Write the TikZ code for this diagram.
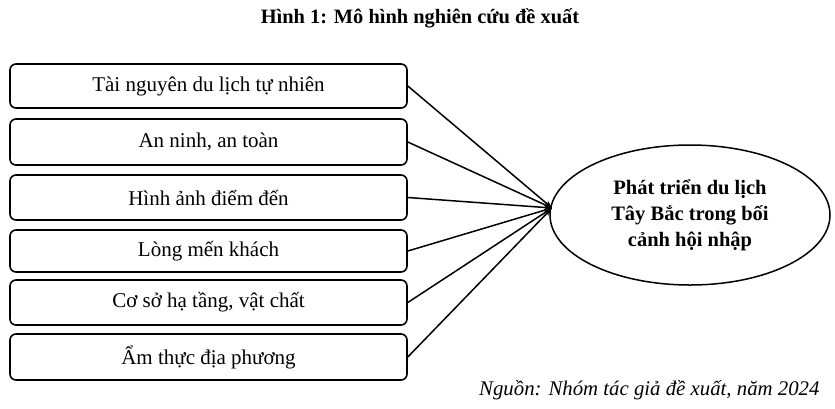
\documentclass[tikz,border=0pt]{standalone}
\usepackage{fontspec}
\setmainfont{Liberation Serif}
\usetikzlibrary{arrows.meta,shapes.geometric}
\begin{document}
\begin{tikzpicture}[x=1pt,y=-1pt,
  factorbox/.style={draw, line width=1.6pt, rounded corners=6pt, minimum width=397pt,
    inner sep=0pt, font=\fontsize{21}{25}\selectfont},
  link/.style={line width=1.5pt, -{Stealth[length=8pt,width=6pt]}},
  goal/.style={draw, ellipse, line width=1.5pt, minimum width=280pt, minimum height=140pt,
    inner sep=0pt, align=center, font=\fontsize{20.5}{26}\selectfont\bfseries}]
\useasboundingbox (0,0) rectangle (835,408);
\node[font=\fontsize{20.4}{24}\selectfont\bfseries] (title) at (420,18) {Hình 1: Mô hình nghiên cứu đề xuất};
\node[factorbox, minimum height=44pt] (b1) at (208.5,86) {Tài nguyên du lịch tự nhiên};
\node[factorbox, minimum height=46pt] (b2) at (208.5,142) {An ninh, an toàn};
\node[factorbox, minimum height=45pt] (b3) at (208.5,197.5) {Hình ảnh điểm đến};
\node[factorbox, minimum height=42pt] (b4) at (208.5,251) {Lòng mến khách};
\node[factorbox, minimum height=45pt] (b5) at (208.5,302.5) {Cơ sở hạ tầng, vật chất};
\node[factorbox, minimum height=46pt] (b6) at (208.5,357) {Ẩm thực địa phương};
\node[goal] (goal) at (690,215) {Phát triển du lịch\\Tây Bắc trong bối\\cảnh hội nhập};
\coordinate (tip) at (552,208);
\foreach \b in {b1,b2,b3,b4,b5,b6} \draw[link] (\b.east) -- (tip);
\node[anchor=base east, font=\fontsize{20.8}{24}\selectfont\itshape] (src) at (823,395) {Nguồn: Nhóm tác giả đề xuất, năm 2024};
\end{tikzpicture}
\end{document}
